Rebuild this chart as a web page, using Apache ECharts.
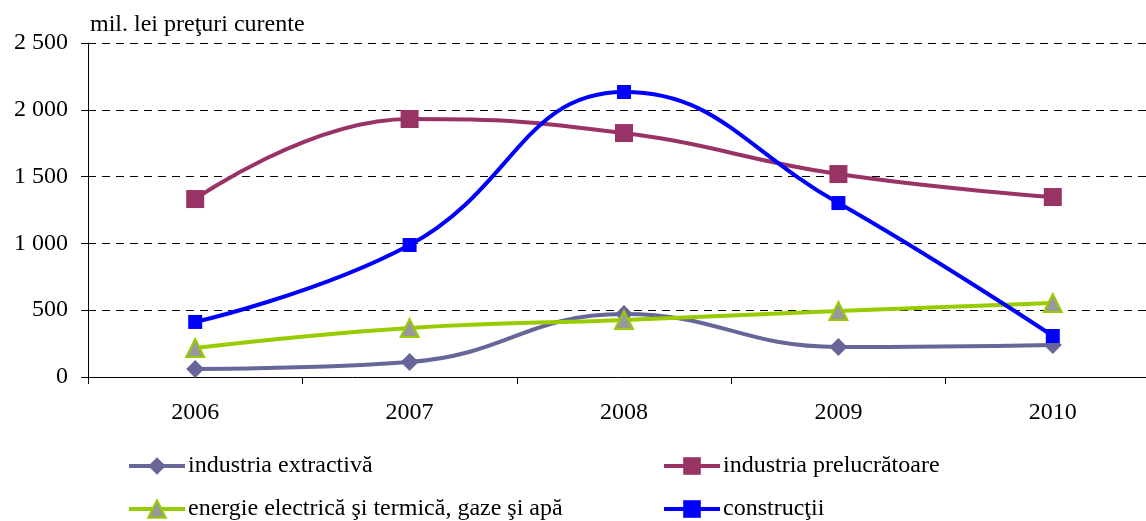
<!DOCTYPE html>
<html>
<head>
<meta charset="utf-8">
<script src="https://cdn.jsdelivr.net/npm/echarts@6/dist/echarts.min.js"></script>
<style>
  html, body { margin: 0; padding: 0; background: #fff; }
  #chart { width: 1146px; height: 521px; }
</style>
</head>
<body>
<div id="chart"></div>
<script>
const years = ['2006', '2007', '2008', '2009', '2010']
const extractiva = [60, 112, 471, 225, 240]
const prelucratoare = [1332, 1931, 1826, 1519, 1347]
const energie = [217, 367, 427, 494, 554]
const constructii = [412, 988, 2133, 1302, 307]
const seriesNames = [
    'industria extractivă',
    'industria prelucrătoare',
    'energie electrică şi termică, gaze şi apă',
    'construcţii'
]

const font = 'Liberation Serif'
const mychart = echarts.init(document.getElementById('chart'))

const legendAt = (name, left, top) => ({
    data: [name],
    left, top,
    itemWidth: 56,
    itemHeight: 22,
    itemGap: 0,
    selectedMode: false,
    lineStyle: { width: 4 },
    textStyle: { fontFamily: font, fontSize: 24, color: '#000', padding: [0, 0, 0, -2] }
})

mychart.setOption({
    animation: false,
    title: {
        text: 'mil. lei preţuri curente',
        left: 85, top: 8,
        textStyle: { fontFamily: font, fontSize: 24, fontWeight: 'normal', color: '#000' }
    },
    legend: [
        legendAt(seriesNames[0], 122, 449),
        legendAt(seriesNames[1], 657, 449),
        legendAt(seriesNames[2], 122, 492),
        legendAt(seriesNames[3], 657, 492)
    ],
    grid: { left: 88, width: 1072, top: 43, height: 334, outerBoundsMode: 'none' },
    xAxis: {
        type: 'category',
        data: years,
        boundaryGap: true,
        axisLine: { lineStyle: { color: '#000', width: 1 } },
        axisTick: { show: true, length: 7, lineStyle: { color: '#000' } },
        axisLabel: { fontFamily: font, fontSize: 24, color: '#000', margin: 24 }
    },
    yAxis: {
        type: 'value',
        min: 0, max: 2500, interval: 500,
        axisLine: { show: true, lineStyle: { color: '#000', width: 1 } },
        axisTick: { show: true, length: 7, lineStyle: { color: '#000' } },
        axisLabel: {
            fontFamily: font, fontSize: 24, color: '#000', margin: 20,
            formatter: v => String(v).replace(/\B(?=(\d{3})+(?!\d))/g, ' ')
        },
        splitLine: { show: true, lineStyle: { color: '#000', type: [8, 6], width: 1 } }
    },
    series: [
        {
            name: seriesNames[0], type: 'line', data: extractiva, smooth: 0.45,
            symbol: 'diamond', symbolSize: 18,
            lineStyle: { color: '#666699', width: 4 },
            itemStyle: { color: '#666699' }, z: 3
        },
        {
            name: seriesNames[1], type: 'line', data: prelucratoare, smooth: 0.45,
            symbol: 'rect', symbolSize: 18,
            lineStyle: { color: '#993366', width: 4 },
            itemStyle: { color: '#993366' }, z: 4
        },
        {
            name: seriesNames[2], type: 'line', data: energie, smooth: 0.45,
            symbol: 'triangle', symbolSize: 18,
            lineStyle: { color: '#99CC00', width: 4 },
            itemStyle: { color: '#999999', borderColor: '#99CC00', borderWidth: 2 }, z: 5
        },
        {
            name: seriesNames[3], type: 'line', data: constructii, smooth: 0.45,
            symbol: 'rect', symbolSize: 14,
            lineStyle: { color: '#0000FF', width: 4 },
            itemStyle: { color: '#0000FF' }, z: 6
        }
    ]
})
</script>
</body>
</html>
